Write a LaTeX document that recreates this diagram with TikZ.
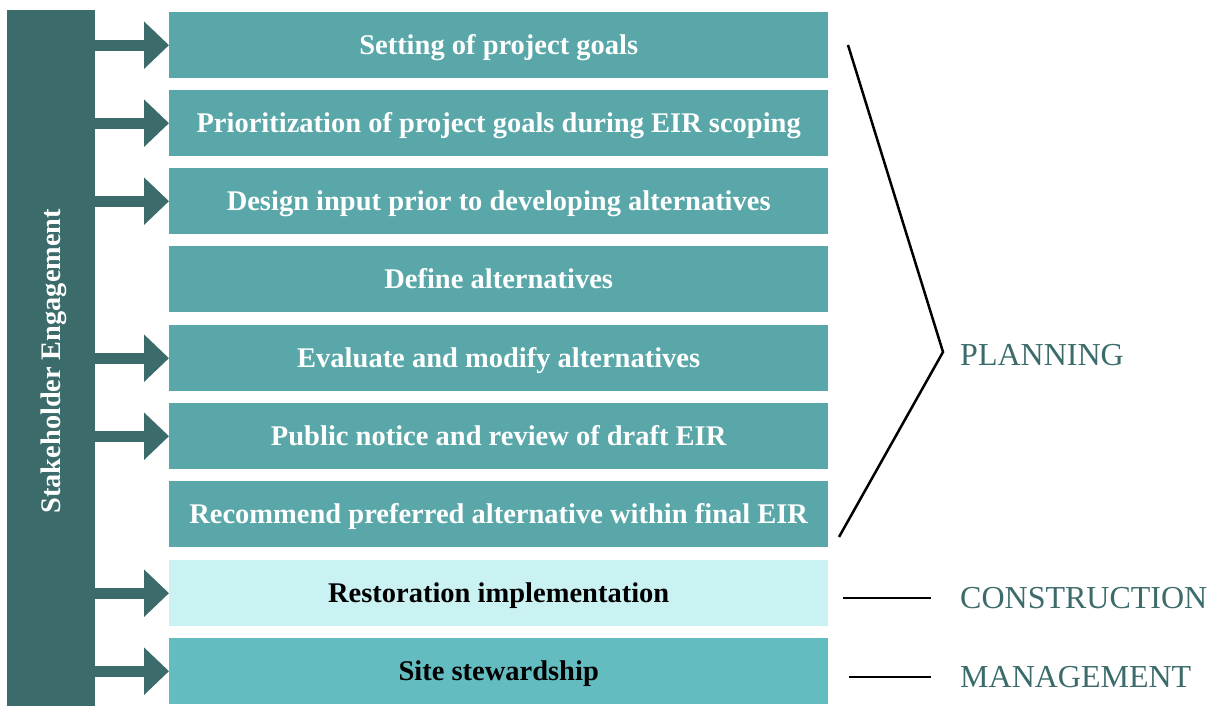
\documentclass[tikz,border=0pt]{standalone}
\usepackage{fontspec}
\setmainfont{Liberation Serif}
\usetikzlibrary{arrows.meta}
\definecolor{bardark}{HTML}{3B6B6A}
\definecolor{boxteal}{HTML}{59A7A8}
\definecolor{boxlight}{HTML}{CBF2F3}
\definecolor{boxmid}{HTML}{63BDC0}
\begin{document}
\begin{tikzpicture}[x=1pt,y=-1pt,
  stepbox/.style={fill=boxteal,minimum width=659pt,minimum height=66pt,inner sep=0pt,anchor=north west},
  boxtext/.style={font=\fontsize{28.5}{28.5}\selectfont\bfseries,text=white},
  arr/.style={draw=bardark,line width=11pt,-{Triangle[length=25pt,width=46pt]}},
  bracket/.style={draw=black,line width=2.5pt},
  phase/.style={font=\fontsize{32}{32}\selectfont,text=bardark,anchor=west,inner sep=0pt}]
\useasboundingbox (0,0) rectangle (1217,706);
\fill[white] (0,0) rectangle (1217,706);
% bar
\node[fill=bardark,minimum width=88pt,minimum height=696pt,inner sep=0pt,anchor=north west] (bar) at (7,10) {};
\node[rotate=90,font=\fontsize{28.3}{28.3}\selectfont\bfseries,text=white] at ([xshift=3pt,yshift=-3pt]bar.center) {Stakeholder Engagement};
% boxes
\node[stepbox] (b1) at (169,12) {};
\node[stepbox] (b2) at (169,90) {};
\node[stepbox] (b3) at (169,168) {};
\node[stepbox] (b4) at (169,246) {};
\node[stepbox] (b5) at (169,325) {};
\node[stepbox] (b6) at (169,403) {};
\node[stepbox] (b7) at (169,481) {};
\node[stepbox,fill=boxlight] (b8) at (169,560) {};
\node[stepbox,fill=boxmid] (b9) at (169,638) {};
\foreach \n/\t in {b1/Setting of project goals,
  b2/Prioritization of project goals during EIR scoping,
  b3/Design input prior to developing alternatives,
  b4/Define alternatives,
  b5/Evaluate and modify alternatives,
  b6/Public notice and review of draft EIR,
  b7/Recommend preferred alternative within final EIR}
  \node[boxtext,anchor=base] at ([yshift=-9pt]\n.center) {\t};
\node[boxtext,text=black,anchor=base] at ([yshift=-9pt]b8.center) {Restoration implementation};
\node[boxtext,text=black,anchor=base] at ([yshift=-9pt]b9.center) {Site stewardship};
% arrows
\foreach \n in {b1,b2,b3,b5,b6,b8,b9}
  \draw[arr] (bar.east |- \n.west) -- (\n.west);
% bracket and lines
\coordinate (p1) at (848,45);
\coordinate (p2) at (943,352);
\coordinate (p3) at (839,537);
\draw[bracket,line join=miter] (p1) -- (p2) -- (p3);
\coordinate (c1) at (843,598);
\coordinate (c2) at (931,598);
\draw[bracket] (c1) -- (c2);
\coordinate (m1) at (849,677);
\coordinate (m2) at (931,677);
\draw[bracket] (m1) -- (m2);
\node[phase] (plan) at (960,355) {PLANNING};
\node[phase] (cons) at (960,598) {CONSTRUCTION};
\node[phase] (mgmt) at (960,677) {MANAGEMENT};
\end{tikzpicture}
\end{document}
